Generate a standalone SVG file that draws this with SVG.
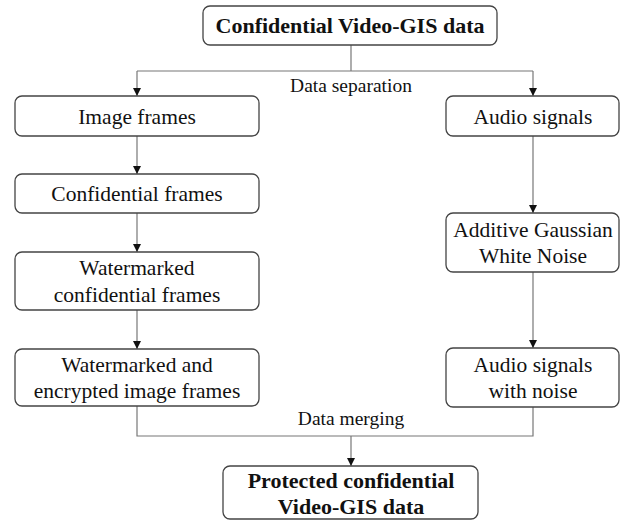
<svg xmlns="http://www.w3.org/2000/svg" width="621" height="521" viewBox="0 0 621 521">
<style>
.box{fill:#fff;stroke:#444;stroke-width:1.3}
.t{font-family:"Liberation Serif","Times New Roman",serif;font-size:21.5px;fill:#111;text-anchor:middle}
.s{font-size:19.5px}
.b{font-weight:bold;font-size:22px}
.ln{fill:none;stroke:#777;stroke-width:1.2}
</style>
<defs>
<marker id="a" markerWidth="8" markerHeight="9" refX="8" refY="4" orient="auto" markerUnits="userSpaceOnUse">
<path d="M0,0 L8,4 L0,8 Z" fill="#111"/>
</marker>
</defs>
<g id="connectors">
<path class="ln" d="M351,45 V71"/>
<path class="ln" d="M137,71 H533"/>
<path class="ln" d="M137,71 V96" marker-end="url(#a)"/>
<path class="ln" d="M533,71 V96" marker-end="url(#a)"/>
<path class="ln" d="M137,136 V174" marker-end="url(#a)"/>
<path class="ln" d="M137,213 V252" marker-end="url(#a)"/>
<path class="ln" d="M137,310 V349" marker-end="url(#a)"/>
<path class="ln" d="M533,136 V213" marker-end="url(#a)"/>
<path class="ln" d="M533,272 V348" marker-end="url(#a)"/>
<path class="ln" d="M137,406 V436 H533 V407"/>
<path class="ln" d="M351,436 V466" marker-end="url(#a)"/>
<text class="t s" x="351" y="92">Data separation</text>
<text class="t s" x="351" y="425">Data merging</text>
</g>
<g id="n0"><rect class="box" x="203" y="6" width="294" height="39" rx="7"/><text class="t b" x="350" y="33">Confidential Video-GIS data</text></g>
<g id="n1"><rect class="box" x="15" y="96" width="244" height="40" rx="7"/><text class="t" x="137" y="124">Image frames</text></g>
<g id="n2"><rect class="box" x="15" y="174" width="244" height="39" rx="7"/><text class="t" x="137" y="201">Confidential frames</text></g>
<g id="n3"><rect class="box" x="15" y="252" width="244" height="58" rx="7"/><text class="t" x="137" y="275">Watermarked</text><text class="t" x="137" y="302">confidential frames</text></g>
<g id="n4"><rect class="box" x="15" y="349" width="244" height="57" rx="7"/><text class="t" x="137" y="372">Watermarked and</text><text class="t" x="137" y="398">encrypted image frames</text></g>
<g id="n5"><rect class="box" x="446" y="96" width="173" height="40" rx="7"/><text class="t" x="533" y="124">Audio signals</text></g>
<g id="n6"><rect class="box" x="446" y="213" width="173" height="59" rx="7"/><text class="t" x="533" y="237">Additive Gaussian</text><text class="t" x="533" y="263">White Noise</text></g>
<g id="n7"><rect class="box" x="446" y="348" width="173" height="59" rx="7"/><text class="t" x="533" y="372">Audio signals</text><text class="t" x="533" y="398">with noise</text></g>
<g id="n8"><rect class="box" x="223" y="466" width="255" height="53" rx="7"/><text class="t b" x="351" y="488">Protected confidential</text><text class="t b" x="351" y="514">Video-GIS data</text></g>
</svg>
